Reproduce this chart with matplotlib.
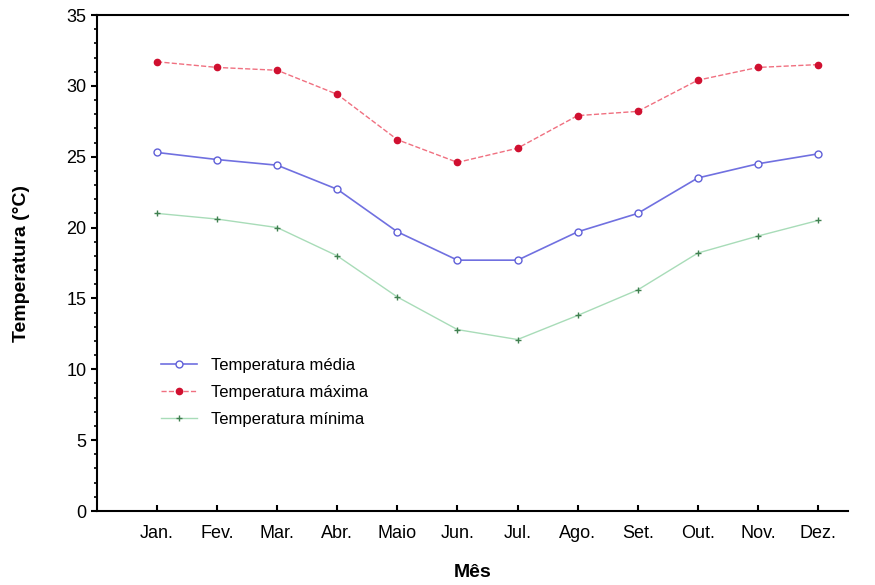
import numpy as np
import matplotlib.pyplot as plt
from matplotlib.ticker import MultipleLocator

months = ["Jan.", "Fev.", "Mar.", "Abr.", "Maio", "Jun.", "Jul.", "Ago.", "Set.", "Out.", "Nov.", "Dez."]
t_media = [25.3, 24.8, 24.4, 22.7, 19.7, 17.7, 17.7, 19.7, 21.0, 23.5, 24.5, 25.2]
t_max = [31.7, 31.3, 31.1, 29.4, 26.2, 24.6, 25.6, 27.9, 28.2, 30.4, 31.3, 31.5]
t_min = [21.0, 20.6, 20.0, 18.0, 15.1, 12.8, 12.1, 13.8, 15.6, 18.2, 19.4, 20.5]

plt.rcParams['font.family'] = ['Liberation Sans', 'DejaVu Sans']
fig = plt.figure(figsize=(8.75, 5.85), dpi=100)
ax = fig.add_axes([97/875, 1 - 511/585, (848 - 97)/875, (511 - 15)/585])
x = np.arange(1, 13)
ax.plot(x, t_media, '-o', color='#7070e0', lw=1.2, ms=5, mfc='white', mec='#6060d8', label='Temperatura média')
ax.plot(x, t_max, '--o', color='#f07080', lw=1.0, ms=4.5, mfc='#d01030', mec='#d01030', label='Temperatura máxima')
ax.plot(x, t_min, '-+', color='#a8dcb8', lw=1.0, ms=5, mec='#408050', label='Temperatura mínima')

ax.set_xlim(0, 12.5)
ax.set_ylim(0, 35)
ax.set_xticks(x)
ax.set_xticklabels(months, fontsize=13)
ax.yaxis.set_major_locator(MultipleLocator(5))
ax.yaxis.set_minor_locator(MultipleLocator(1))
ax.tick_params(axis='y', labelsize=13, width=1.5, length=4)
ax.tick_params(axis='y', which='minor', length=2.5, width=1.2)
ax.tick_params(axis='x', direction='in', length=4, width=1.5, pad=10)
for s in ax.spines.values():
    s.set_linewidth(1.5)
ax.spines['right'].set_visible(False)
ax.set_xlabel('Mês', fontsize=14, fontweight='bold', labelpad=16)
ax.set_ylabel('Temperatura (°C)', fontsize=14, fontweight='bold', labelpad=26)
ax.legend(loc='lower left', bbox_to_anchor=(0.065, 0.14), frameon=False, fontsize=12, handlelength=2.2, labelspacing=0.7)
fig.savefig('out.png')
